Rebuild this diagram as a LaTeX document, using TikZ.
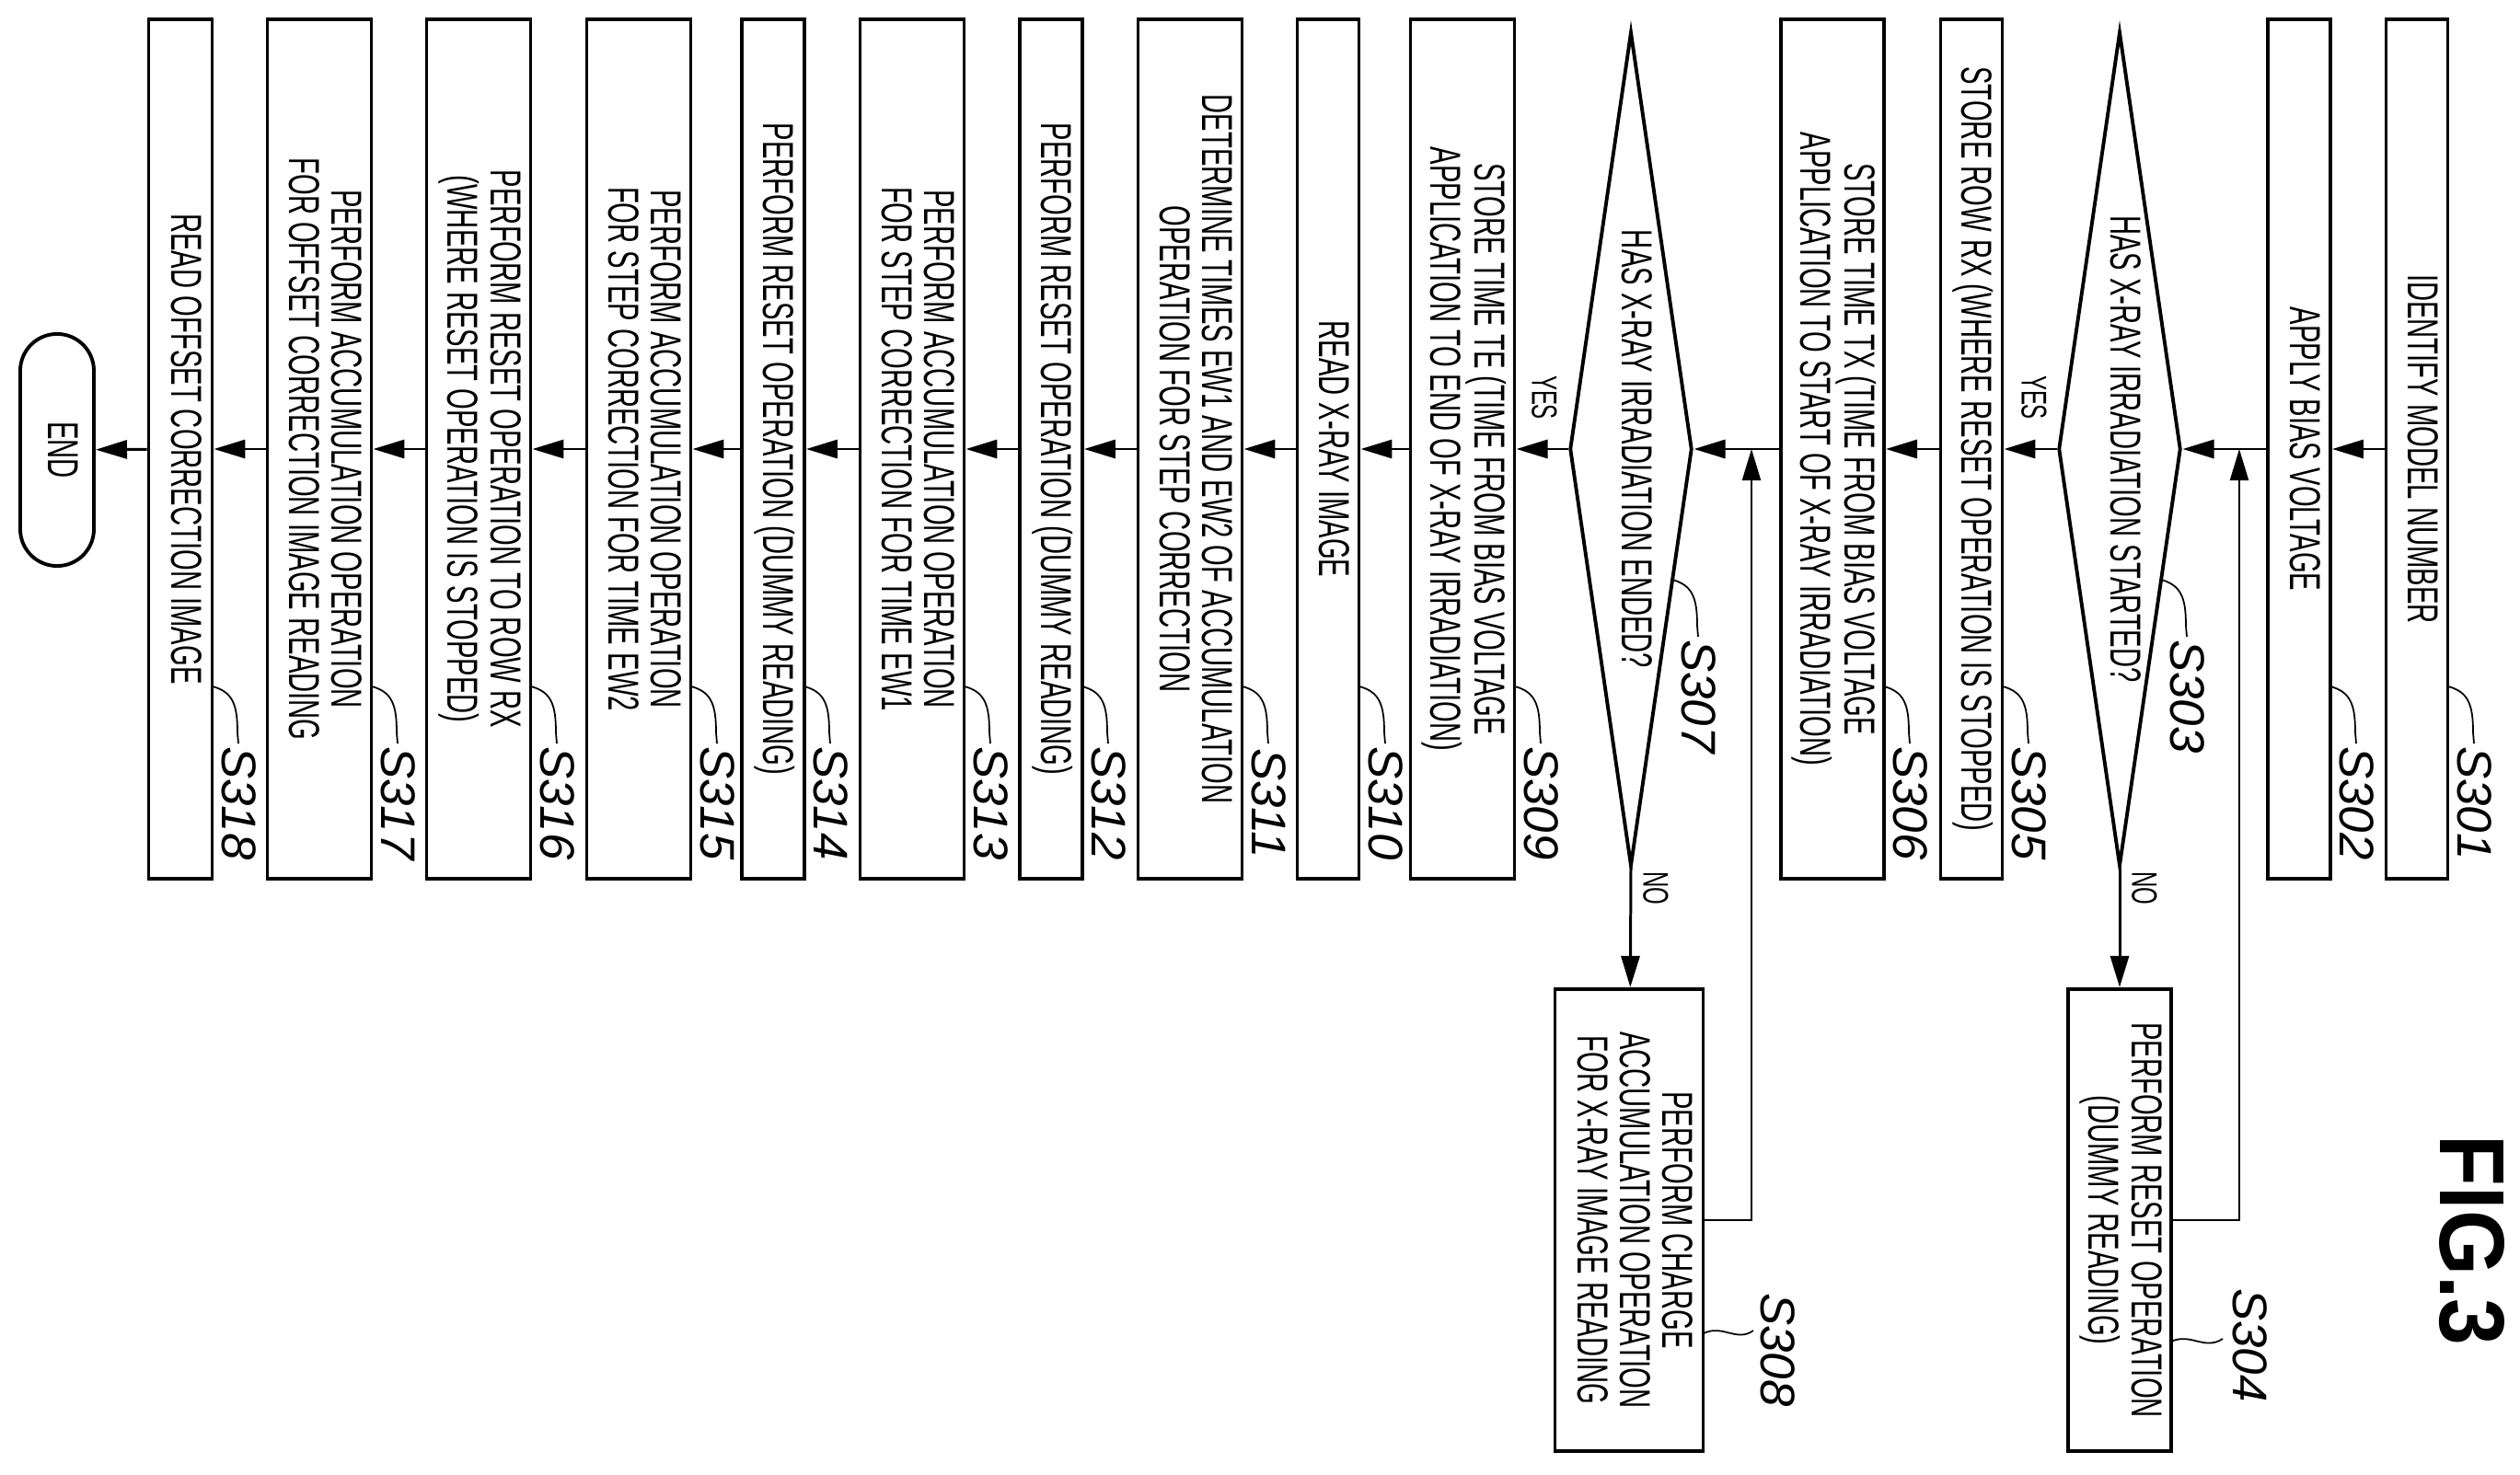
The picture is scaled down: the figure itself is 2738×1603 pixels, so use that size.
\documentclass[tikz,border=0pt]{standalone}
\usepackage{fontspec}
\setmainfont{Liberation Sans}
\usetikzlibrary{shapes.geometric, arrows.meta, positioning, calc}

\newcommand{\vtext}[2][0.62]{\rotatebox{-90}{\scalebox{#1}[1]{\begin{tabular}{@{}c@{}}#2\end{tabular}}}}
\newcommand{\stepleader}[3]{%
  \draw[leader] (#1,#2) .. controls +(22,6) and +(0,-30) .. ++(27,50) -- ++(1,12);
  \node[steplbl] at (#1+29,#2+127) {#3};}

\tikzset{
  txt/.style={font=\fontsize{13.4}{12.5}\selectfont},
  step/.style={draw, line width=1.1pt, inner sep=0pt, txt, minimum height=9.33cm, minimum width=#1},
  side/.style={draw, line width=1.1pt, inner sep=0pt, txt, minimum height=5.02cm, minimum width=#1},
  decide/.style={draw, diamond, line width=1.1pt, inner sep=0pt, minimum width=1.33cm, minimum height=9.06cm},
  arr/.style={line width=0.85pt, -{Triangle[length=0.34cm, width=0.2cm]}},
  back/.style={line width=0.6pt, -{Triangle[length=0.34cm, width=0.2cm]}},
  leader/.style={line width=0.5pt},
  steplbl/.style={font=\fontsize{15}{15}\selectfont\itshape, rotate=-90, inner sep=0pt},
  yn/.style={font=\fontsize{11}{11}\selectfont, inner sep=0pt}
}

\begin{document}
\begin{tikzpicture}[x=0.01cm, y=-0.01cm]
\useasboundingbox (0,0) rectangle (2738,1603);

\node (s301) [step=0.67cm] at (2626,488) {\vtext{IDENTIFY MODEL NUMBER}};
\node (s302) [step=0.68cm] at (2498,488) {\vtext{APPLY BIAS VOLTAGE}};
\node (d303) [decide] at (2303,488) {};
\node [txt] at (d303) {\vtext{HAS X-RAY IRRADIATION STARTED?}};
\node (s304) [side=1.12cm] at (2303,1326) {\vtext{PERFORM RESET OPERATION\\(DUMMY READING)}};
\node (s305) [step=0.67cm] at (2142,488) {\vtext{STORE ROW RX (WHERE RESET OPERATION IS STOPPED)}};
\node (s306) [step=1.12cm] at (1991,488) {\vtext{STORE TIME TX (TIME FROM BIAS VOLTAGE\\APPLICATION TO START OF X-RAY IRRADIATION)}};
\node (d307) [decide] at (1772,488) {};
\node [txt] at (d307) {\vtext{HAS X-RAY IRRADIATION ENDED?}};
\node (s308) [side=1.61cm] at (1770,1326) {\vtext{PERFORM CHARGE\\ACCUMULATION OPERATION\\FOR X-RAY IMAGE READING}};
\node (s309) [step=1.13cm] at (1589,488) {\vtext{STORE TIME TE (TIME FROM BIAS VOLTAGE\\APPLICATION TO END OF X-RAY IRRADIATION)}};
\node (s310) [step=0.67cm] at (1443,488) {\vtext{READ X-RAY IMAGE}};
\node (s311) [step=1.13cm] at (1293,488) {\vtext{DETERMINE TIMES EW1 AND EW2 OF ACCUMULATION\\OPERATION FOR STEP CORRECTION}};
\node (s312) [step=0.68cm] at (1142,488) {\vtext{PERFORM RESET OPERATION (DUMMY READING)}};
\node (s313) [step=1.13cm] at (991,488) {\vtext{PERFORM ACCUMULATION OPERATION\\FOR STEP CORRECTION FOR TIME EW1}};
\node (s314) [step=0.68cm] at (840,488) {\vtext{PERFORM RESET OPERATION (DUMMY READING)}};
\node (s315) [step=1.13cm] at (694,488) {\vtext{PERFORM ACCUMULATION OPERATION\\FOR STEP CORRECTION FOR TIME EW2}};
\node (s316) [step=1.13cm] at (520,488) {\vtext{PERFORM RESET OPERATION TO ROW RX\\(WHERE RESET OPERATION IS STOPPED)}};
\node (s317) [step=1.13cm] at (347,488) {\vtext{PERFORM ACCUMULATION OPERATION\\FOR OFFSET CORRECTION IMAGE READING}};
\node (s318) [step=0.69cm] at (196,488) {\vtext{READ OFFSET CORRECTION IMAGE}};
\node (end) [draw, line width=1.1pt, rounded corners=0.4cm, minimum width=0.8cm, minimum height=2.52cm, inner sep=0pt, txt] at (62,489) {\vtext{END}};

% main flow
\draw [arr] (s301) -- (s302);
\draw [arr] (s302) -- (d303);
\draw [arr] (d303) -- (s305);
\draw [arr] (s305) -- (s306);
\draw [arr] (s306) -- (d307);
\draw [arr] (d307) -- (s309);
\foreach \a/\b in {s309/s310, s310/s311, s311/s312, s312/s313, s313/s314, s314/s315, s315/s316, s316/s317, s317/s318, s318/end}
  \draw [arr] (\a) -- (\b);

% no branches
\draw [arr] (d303.south) -- (s304);
\draw [arr] (d307.south) -- (s308);
\coordinate (j303) at (2433,488);
\coordinate (j307) at (1903,488);
\draw [back] (s304.east) -| (j303);
\draw [back] (s308.east) -| (j307);

\node [yn] at (2210,432) {\rotatebox{-90}{\scalebox{0.62}[1]{YES}}};
\node [yn] at (1678,432) {\rotatebox{-90}{\scalebox{0.62}[1]{YES}}};
\node [yn] at (2330,965) {\rotatebox{-90}{\scalebox{0.62}[1]{NO}}};
\node [yn] at (1799,965) {\rotatebox{-90}{\scalebox{0.62}[1]{NO}}};

% step numbers
\foreach \xr/\lb in {2660/S301, 2532/S302, 2176/S305, 2047/S306, 1646/S309, 1477/S310, 1350/S311, 1176/S312, 1048/S313, 874/S314, 751/S315, 577/S316, 404/S317, 231/S318}
  \stepleader{\xr}{746}{\lb};
\stepleader{2348}{630}{S303}
\stepleader{1817}{630}{S307}
\draw [leader] (2359,1458) .. controls (2380,1448) and (2395,1468) .. (2415,1455);
\node [steplbl] at (2445,1462) {S304};
\draw [leader] (1851,1449) .. controls (1872,1439) and (1887,1459) .. (1905,1446);
\node [steplbl] at (1932,1467) {S308};

\node [font=\fontsize{28.5}{28}\selectfont\bfseries, inner sep=0pt] at (2686,1348) {\rotatebox{-90}{\scalebox{0.91}[1]{FIG.3}}};
\end{tikzpicture}
\end{document}
